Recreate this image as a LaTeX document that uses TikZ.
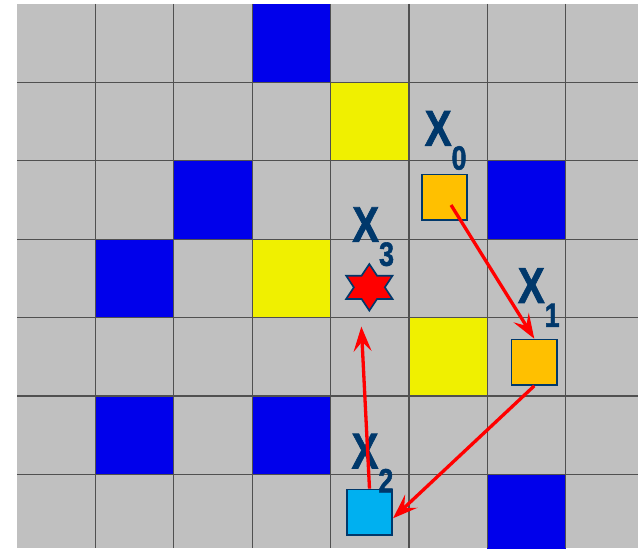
\documentclass[tikz,border=0pt]{standalone}
\usepackage{fontspec}
\setmainfont{Liberation Sans}
\newfontfamily\tagfont{Liberation Sans}[BoldFeatures={FakeBold=1.6}]
\usepackage{graphicx}
\usepackage{tikz}
\usetikzlibrary{arrows.meta,positioning,shapes.geometric,calc}
\definecolor{cellgray}{RGB}{192,192,192}
\definecolor{ruledark}{RGB}{80,80,80}
\definecolor{cellblue}{RGB}{0,0,235}
\definecolor{cellyellow}{RGB}{240,240,0}
\definecolor{agentorange}{RGB}{255,192,0}
\definecolor{agentcyan}{RGB}{0,176,240}
\definecolor{agentnavy}{RGB}{0,56,107}
\definecolor{pathred}{RGB}{255,0,0}
\tikzset{
  blockcell/.style={fill=cellblue},
  rewardcell/.style={fill=cellyellow},
  gridrule/.style={draw=ruledark, line width=0.45pt},
  agent/.style={draw=agentnavy, line width=0.6pt, minimum size=0.58cm, inner sep=0pt},
  target/.style={star, star points=6, star point ratio=1.73, draw=agentnavy, line width=0.6pt,
    fill=pathred, minimum size=0.594cm, inner sep=0pt},
  tag/.style={inner sep=0pt, text=agentnavy},
  move/.style={-{Stealth[length=9pt,width=6.5pt,inset=3.5pt]}, line width=1.2pt, draw=pathred}
}
\newcommand{\agentlab}[1]{\scalebox{0.8}[1]{\tagfont\bfseries\fontsize{18.2pt}{18pt}\selectfont
  X\raisebox{-8.7pt}{\fontsize{12.2pt}{12pt}\selectfont #1}}}

\begin{document}
\begin{tikzpicture}[x=1cm, y=-1cm]
  \useasboundingbox (-0.217,-0.051) rectangle (7.921,6.939);
  % board
  \fill[cellgray] (0,0) rectangle (7.921,6.939);
  \foreach \c/\r in {3/0,2/2,6/2,1/3,1/5,3/5,6/6}
    \fill[blockcell] (\c,\r) rectangle ++(1,1);
  \foreach \c/\r in {4/1,3/3,5/4}
    \fill[rewardcell] (\c,\r) rectangle ++(1,1);
  \foreach \i in {1,...,7}
    \draw[gridrule] (\i,0) -- (\i,6.939);
  \foreach \j in {1,...,6}
    \draw[gridrule] (0,\j) -- (7.921,\j);

  % states
  \node[agent, fill=agentorange] (x0) at (5.453,2.466) {};
  \node[agent, fill=agentorange] (x1) at (6.598,4.570) {};
  \node[agent, fill=agentcyan] (x2) at (4.496,6.482) {};
  \node[target, xscale=1.15] (x3) at (4.494,3.614) {};

  \node[tag, above right=0.042cm and 0.042cm of x0.north west] (l0) {\agentlab{0}};
  \node[tag, above right=0.144cm and 0.085cm of x1.north west] (l1) {\agentlab{1}};
  \node[tag, above right=-0.055cm and 0.066cm of x2.north west] (l2) {\agentlab{2}};
  \node[tag, above right=-0.055cm and -0.224cm of x3.north] (l3) {\agentlab{3}};

  % moves
  \coordinate (s0) at ($(x0.center)+(0.083,0.098)$);
  \draw[move] (s0) -- (x1.north);
  \draw[move] (x1.south) -- ([yshift=-2.2pt]x2.east);
  \draw[move] (x2.north) -- ([xshift=-2.9pt,yshift=-5.2pt]x3.south);
\end{tikzpicture}
\end{document}
